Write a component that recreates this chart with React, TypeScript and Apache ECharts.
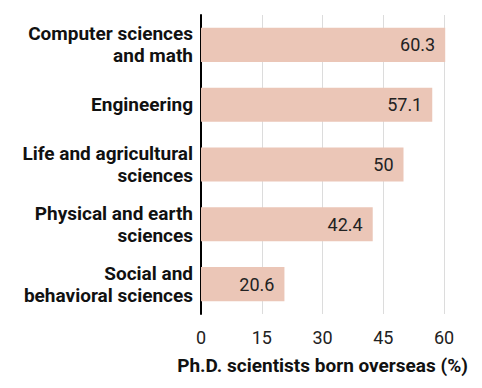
import React, { useEffect, useRef } from "react";
import * as echarts from "echarts";

const categories = [
  "Computer sciences\nand math",
  "Engineering",
  "Life and agricultural\nsciences",
  "Physical and earth\nsciences",
  "Social and\nbehavioral sciences",
];
const values = [60.3, 57.1, 50, 42.4, 20.6];
const xTicks = [0, 15, 30, 45, 60];
const axisTitle = "Ph.D. scientists born overseas (%)";

export default function App() {
  const ref = useRef<HTMLDivElement>(null);
  useEffect(() => {
    if (!ref.current) return;
    const chart = echarts.init(ref.current, null, { renderer: "svg" });
    chart.setOption({
      animation: false,
      textStyle: { fontFamily: "Roboto" },
      grid: { left: 193, right: 30, top: 7, bottom: 58, containLabel: false },
      xAxis: {
        type: "value",
        min: xTicks[0],
        max: xTicks[xTicks.length - 1],
        interval: 15,
        name: axisTitle,
        nameLocation: "middle",
        nameGap: 42,
        nameTextStyle: { fontSize: 19, fontWeight: "bold", color: "#111", fontFamily: "Roboto" },
        axisLine: { show: false },
        axisTick: { show: false },
        axisLabel: { fontSize: 18, color: "#222", margin: 14, fontFamily: "Roboto" },
        splitLine: { show: true, lineStyle: { color: "#dcdcdc", width: 1 } },
      },
      yAxis: {
        type: "category",
        data: categories,
        inverse: true,
        axisLine: { show: true, onZero: false, lineStyle: { color: "#000", width: 2 } },
        axisTick: { show: false },
        axisLabel: {
          fontSize: 19,
          fontWeight: "bold",
          color: "#111",
          lineHeight: 22,
          margin: 8,
          fontFamily: "Roboto",
          align: "right",
        },
      },
      series: [
        {
          type: "bar",
          data: values,
          barWidth: "57%",
          clip: false,
          itemStyle: { color: "#ebc6b7" },
          label: {
            show: true,
            position: "insideRight",
            distance: 10,
            fontSize: 18,
            color: "#222",
            fontFamily: "Roboto",
          },
        },
      ],
    });
    return () => chart.dispose();
  }, []);
  return <div ref={ref} style={{ width: 466, height: 372 }} />;
}
